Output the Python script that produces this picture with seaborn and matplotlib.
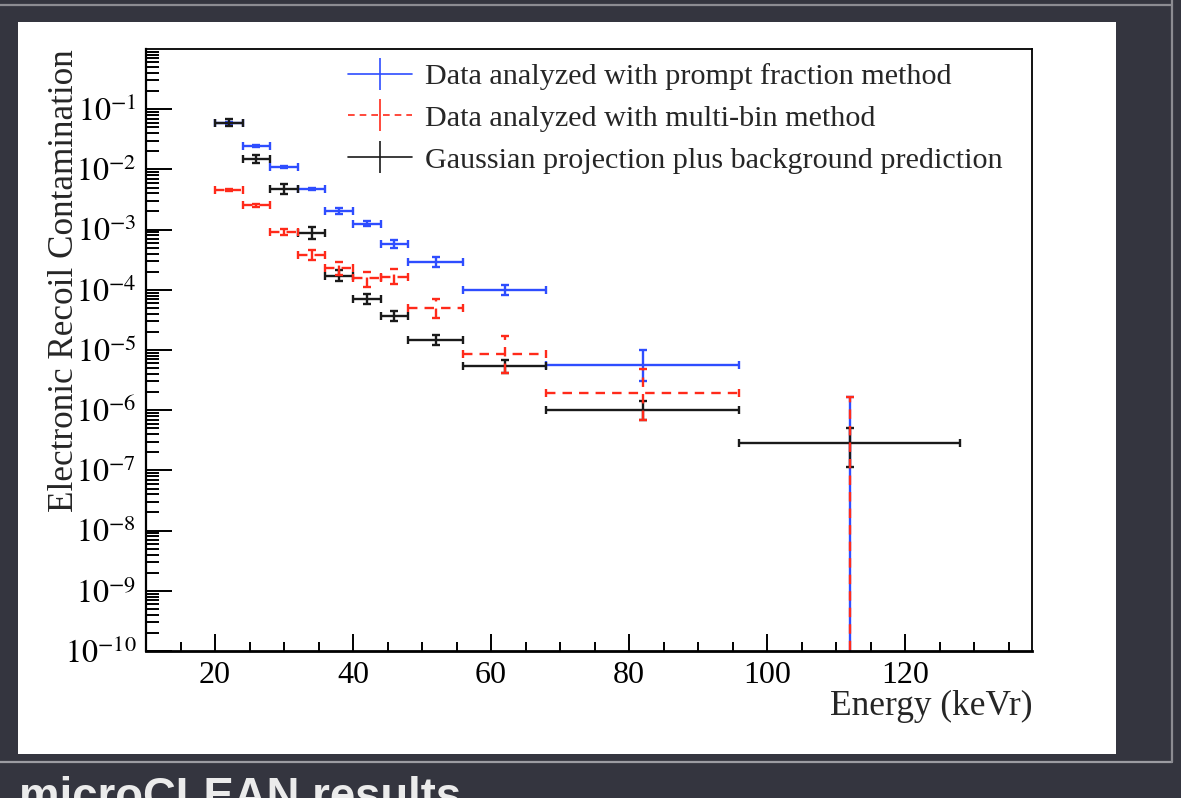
import numpy as np
import matplotlib
matplotlib.use("Agg")
import matplotlib.pyplot as plt
import seaborn as sns
from matplotlib.lines import Line2D
from matplotlib.patches import Rectangle
from matplotlib.ticker import MultipleLocator, LogLocator, FuncFormatter, NullFormatter

# ---------------- data ----------------
energy = [22, 26, 30, 34, 38, 42, 46, 52, 62, 82, 112]
bin_half_width = [2, 2, 2, 2, 2, 2, 2, 4, 6, 14, 16]

prompt_val = [5.97e-2, 2.48e-2, 1.11e-2, 4.67e-3, 2.04e-3, 1.25e-3, 5.7e-4, 2.93e-4, 9.9e-5, 5.6e-6, 0.0]
prompt_lo = [2.5e-3, 1.0e-3, 4.0e-4, 2.0e-4, 1.9e-4, 1.2e-4, 8.0e-5, 5.2e-5, 1.8e-5, 2.5e-6, 0.0]
prompt_hi = [2.5e-3, 1.0e-3, 4.0e-4, 2.0e-4, 2.1e-4, 1.3e-4, 9.0e-5, 6.2e-5, 2.2e-5, 4.3e-6, 1.66e-6]

multibin_val = [4.55e-3, 2.56e-3, 9.2e-4, 3.78e-4, 2.33e-4, 1.55e-4, 1.65e-4, 4.93e-5, 8.7e-6, 1.9e-6, 0.0]
multibin_lo = [2.5e-4, 1.5e-4, 1.0e-4, 7.0e-5, 5.6e-5, 4.3e-5, 4.1e-5, 1.5e-5, 4.5e-6, 1.2e-6, 0.0]
multibin_hi = [2.5e-4, 1.5e-4, 1.2e-4, 8.5e-5, 6.0e-5, 4.5e-5, 5.4e-5, 2.1e-5, 8.6e-6, 2.9e-6, 1.66e-6]

gauss_val = [5.97e-2, 1.47e-2, 4.67e-3, 8.7e-4, 1.71e-4, 6.95e-5, 3.67e-5, 1.47e-5, 5.5e-6, 1.0e-6, 2.85e-7]
gauss_lo = [7.4e-3, 2.1e-3, 8.1e-4, 1.8e-4, 3.2e-5, 1.2e-5, 6.4e-6, 2.6e-6, 1.3e-6, 3.2e-7, 1.7e-7]
gauss_hi = [8.5e-3, 2.4e-3, 9.8e-4, 2.2e-4, 4.0e-5, 1.46e-5, 7.7e-6, 3.1e-6, 1.3e-6, 4.3e-7, 2.3e-7]

labels = ["Data analyzed with prompt fraction method",
          "Data analyzed with multi-bin method",
          "Gaussian projection plus background prediction"]

x_label = "Energy (keVr)"
y_label = "Electronic Recoil Contamination"
slide_title = "microCLEAN results"

# ---------------- style ----------------
sns.set_style("white")
plt.rcParams["font.family"] = ["Liberation Serif", "DejaVu Serif"]
plt.rcParams["mathtext.fontset"] = "stix"

W, H = 1181, 798
BG = "#34353f"
BLUE = "#2e4dff"
RED = "#ff2a1a"
BLACK = "#1a1a1a"

fig = plt.figure(figsize=(W / 100, H / 100), dpi=100, facecolor=BG)

# white slide panel (behind the axes)
fig.patches.append(Rectangle((18 / W, 1 - 754 / H), (1116 - 18) / W, (754 - 22) / H,
                             transform=fig.transFigure, facecolor="white",
                             edgecolor="none", zorder=-10))
# slide decoration lines
fig.lines.append(Line2D([0, 1172 / W], [1 - 762 / H] * 2, transform=fig.transFigure,
                        color="#9c9ca2", lw=1.6, zorder=-10))
fig.lines.append(Line2D([1172 / W] * 2, [1 - 762 / H, 1], transform=fig.transFigure,
                        color="#8c8c92", lw=1.6, zorder=-10))
fig.lines.append(Line2D([0, 1172 / W], [1 - 5 / H] * 2, transform=fig.transFigure,
                        color="#8c8c92", lw=1.6, zorder=-10))
fig.text(19 / W, 1 - 810 / H, slide_title, color="#ebebeb", fontsize=32.8,
         fontweight="bold", family=["Liberation Sans", "DejaVu Sans"], va="baseline")

ax = fig.add_axes([146 / W, 1 - 651 / H, 886 / W, 602 / H])
ax.set_facecolor("white")
ax.set_zorder(5)


def draw(val, lo, hi, color, dashed):
    eb = ax.errorbar(energy, val, yerr=[lo, hi], xerr=bin_half_width, fmt="none",
                     ecolor=color, elinewidth=1.7, capsize=3, capthick=1.7)
    if dashed:
        for lc in eb[2]:
            lc.set_linestyle((0, (4, 3)))
    return eb


ax.set_yscale("log")
draw(prompt_val, prompt_lo, prompt_hi, BLUE, False)
draw(gauss_val, gauss_lo, gauss_hi, BLACK, False)
draw(multibin_val, multibin_lo, multibin_hi, RED, True)

ax.set_xlim(10, 138.4)
ax.set_ylim(1e-10, 1)

ax.xaxis.set_major_locator(MultipleLocator(20))
ax.xaxis.set_minor_locator(MultipleLocator(5))
ax.set_yticks([10.0 ** k for k in range(-10, 0)])
ax.yaxis.set_minor_locator(LogLocator(base=10, subs=np.arange(2, 10), numticks=100))
ax.yaxis.set_major_formatter(FuncFormatter(lambda v, p: r"$10^{%d}$" % int(round(np.log10(v)))))
ax.yaxis.set_minor_formatter(NullFormatter())

ax.tick_params(axis="x", which="major", direction="in", length=12.2, width=1.4,
               labelsize=23, pad=7, bottom=True, top=False, colors="black")
ax.tick_params(axis="x", which="minor", direction="in", length=6.5, width=1.4,
               bottom=True, top=False, colors="black")
ax.tick_params(axis="y", which="major", direction="in", length=18.7, width=1.4,
               labelsize=23, pad=7, left=True, right=False, colors="black")
ax.tick_params(axis="y", which="minor", direction="in", length=9.4, width=1.4,
               left=True, right=False, colors="black")

for s in ax.spines.values():
    s.set_color("black")
    s.set_linewidth(1.3)
ax.spines["bottom"].set_linewidth(2.0)
ax.spines["left"].set_linewidth(1.6)

ax.set_xlabel(x_label, loc="right", fontsize=25.5)
ax.xaxis.set_label_coords(1.0, -0.064)
ax.set_ylabel(y_label, loc="top", fontsize=25.3)
ax.yaxis.set_label_coords(-0.073, 1.0)

handles = [
    Line2D([], [], color=BLUE, ls="-", lw=1.2, marker="|", markersize=23, markeredgewidth=1.2),
    Line2D([], [], color=RED, ls=(0, (4, 3)), lw=1.2, marker="|", markersize=23, markeredgewidth=1.2),
    Line2D([], [], color=BLACK, ls="-", lw=1.2, marker="|", markersize=23, markeredgewidth=1.2),
]
fs_leg = 21.7
ax.legend(handles, labels, loc="upper left", bbox_to_anchor=(348 / W, 1 - 63 / H),
          bbox_transform=fig.transFigure, frameon=False, fontsize=fs_leg,
          handlelength=64 / (fs_leg * 100 / 72), handletextpad=13 / (fs_leg * 100 / 72),
          labelspacing=0.49, borderpad=0, borderaxespad=0)

fig.savefig("out.png", dpi=100, facecolor=BG)
